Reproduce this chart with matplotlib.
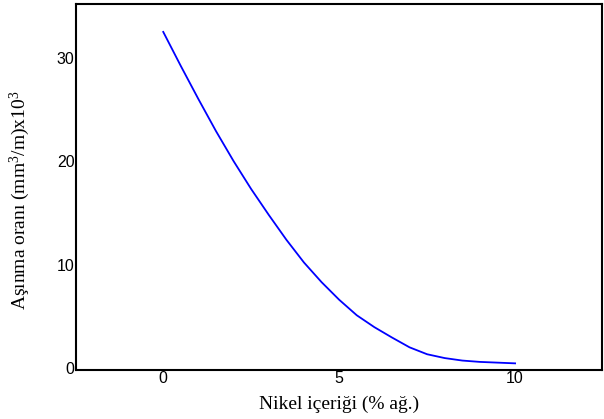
import matplotlib.pyplot as plt

plt.rcParams['mathtext.fontset'] = 'custom'
plt.rcParams['mathtext.rm'] = 'Liberation Serif'
plt.rcParams['mathtext.it'] = 'Liberation Serif:italic'

nikel = [0, 0.5, 1, 1.5, 2, 2.5, 3, 3.5, 4, 4.5, 5, 5.5, 6, 6.5, 7, 7.5, 8, 8.5, 9, 9.5, 10]
asinma = [32.5, 29.2, 26.0, 22.9, 20.0, 17.3, 14.8, 12.4, 10.2, 8.3, 6.6, 5.1, 3.95, 2.95, 2.0, 1.33, 0.96, 0.72, 0.59, 0.52, 0.45]

xticks = [0, 5, 10]
yticks = [0, 10, 20, 30]

fig = plt.figure(figsize=(6.04, 4.19), dpi=100)
ax = fig.add_axes([0.1258, 0.118, 0.8709, 0.8725])

ax.plot(nikel, asinma, color="blue", lw=1.3)

ax.set_xlim(-2.48, 12.47)
ax.set_ylim(-0.15, 35.2)
ax.set_xticks(xticks)
ax.set_yticks(yticks)
ax.tick_params(length=0, pad=1, labelsize=11.5)
for lab in ax.get_xticklabels() + ax.get_yticklabels():
    lab.set_fontfamily("Liberation Sans")

for s in ax.spines.values():
    s.set_linewidth(1.5)

ax.set_xlabel("Nikel içeriği (% ağ.)", fontfamily="Liberation Serif", fontsize=14, labelpad=7)
ax.set_ylabel("Aşınma oranı (mm$^3$/m)x10$^3$", fontfamily="Liberation Serif", fontsize=14)
ax.yaxis.set_label_coords(-0.083, 0.463)

fig.savefig("out.png")
